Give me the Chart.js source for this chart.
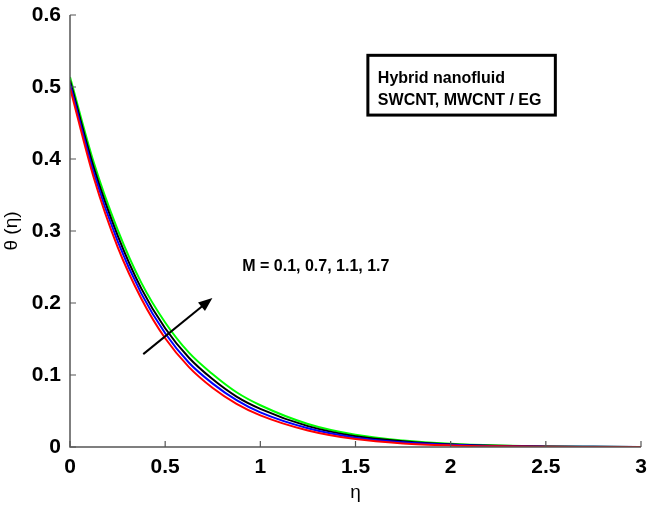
<!DOCTYPE html>
<html>
<head>
<meta charset="utf-8">
<script src="https://cdn.jsdelivr.net/npm/chart.js@4.4.1/dist/chart.umd.min.js"></script>
<style>
  html, body { margin: 0; padding: 0; background: #fff; }
  #wrap { width: 671px; height: 508px; position: relative; }
</style>
</head>
<body>
<div id="wrap"><canvas id="thetaChart"></canvas></div>
<script>
// eta grid and temperature profiles
const eta = [0, 0.125, 0.25, 0.375, 0.5, 0.625, 0.75, 0.875, 1.0, 1.25, 1.5, 1.75, 2.0, 2.25, 2.5, 2.75, 3.0];

const thetaM01 = [0.499, 0.374, 0.278, 0.206, 0.151, 0.111, 0.082, 0.060, 0.044, 0.023, 0.011, 0.005, 0.0022, 0.0009, 0.0003, 0.0001, 0];
const thetaM07 = [0.504, 0.381, 0.286, 0.213, 0.158, 0.117, 0.088, 0.065, 0.048, 0.026, 0.013, 0.0065, 0.003, 0.0012, 0.0005, 0.0002, 0];
const thetaM11 = [0.509, 0.388, 0.294, 0.220, 0.165, 0.124, 0.094, 0.070, 0.053, 0.029, 0.015, 0.008, 0.0037, 0.0016, 0.0006, 0.0002, 0];
const thetaM17 = [0.514, 0.395, 0.302, 0.228, 0.173, 0.131, 0.101, 0.076, 0.058, 0.032, 0.017, 0.009, 0.0044, 0.002, 0.0008, 0.0003, 0.0001];

const xTicks = [0, 0.5, 1, 1.5, 2, 2.5, 3];
const yTicks = [0, 0.1, 0.2, 0.3, 0.4, 0.5, 0.6];

const fontFamily = '"Liberation Sans", Arial, sans-serif';

function toPoints(ys) {
    return eta.map((x, i) => ({ x: x, y: ys[i] }));
}

function series(label, ys, color) {
    return {
        label: label,
        data: toPoints(ys),
        borderColor: color,
        backgroundColor: color,
        borderWidth: 2,
        pointRadius: 0,
        cubicInterpolationMode: 'monotone',
        fill: false
    };
}

// Axis lines, inward ticks, text box, arrow and M label
const decorPlugin = {
    id: 'decor',
    afterDatasetsDraw(chart) {
        const ctx = chart.ctx;
        const xs = chart.scales.x;
        const ys = chart.scales.y;
        const a = chart.chartArea;
        ctx.save();

        // axes (box off: only left and bottom)
        ctx.strokeStyle = '#555';
        ctx.lineWidth = 1.5;
        ctx.beginPath();
        ctx.moveTo(a.left, a.top);
        ctx.lineTo(a.left, a.bottom);
        ctx.lineTo(a.right, a.bottom);
        ctx.stroke();

        // inward ticks
        ctx.lineWidth = 1.2;
        ctx.beginPath();
        xTicks.forEach(v => {
            const px = xs.getPixelForValue(v);
            ctx.moveTo(px, a.bottom);
            ctx.lineTo(px, a.bottom - 6);
        });
        yTicks.forEach(v => {
            const py = ys.getPixelForValue(v);
            ctx.moveTo(a.left, py);
            ctx.lineTo(a.left + 6, py);
        });
        ctx.stroke();

        // text box
        const bx0 = xs.getPixelForValue(1.565), by0 = ys.getPixelForValue(0.544);
        const bx1 = xs.getPixelForValue(2.55), by1 = ys.getPixelForValue(0.461);
        ctx.fillStyle = '#fff';
        ctx.fillRect(bx0, by0, bx1 - bx0, by1 - by0);
        ctx.strokeStyle = '#000';
        ctx.lineWidth = 3;
        ctx.strokeRect(bx0, by0, bx1 - bx0, by1 - by0);
        ctx.fillStyle = '#000';
        ctx.font = 'bold 16px ' + fontFamily;
        ctx.textAlign = 'left';
        ctx.textBaseline = 'middle';
        ctx.fillText('Hybrid nanofluid', bx0 + 10, by0 + 23);
        ctx.fillText('SWCNT, MWCNT / EG', bx0 + 10, by0 + 45);

        // M label
        ctx.fillText('M = 0.1, 0.7, 1.1, 1.7', xs.getPixelForValue(0.905), ys.getPixelForValue(0.25));

        // arrow
        const ax0 = xs.getPixelForValue(0.385), ay0 = ys.getPixelForValue(0.129);
        const ax1 = xs.getPixelForValue(0.748), ay1 = ys.getPixelForValue(0.207);
        const ang = Math.atan2(ay1 - ay0, ax1 - ax0);
        ctx.strokeStyle = '#000';
        ctx.lineWidth = 2;
        ctx.beginPath();
        ctx.moveTo(ax0, ay0);
        ctx.lineTo(ax1 - 8 * Math.cos(ang), ay1 - 8 * Math.sin(ang));
        ctx.stroke();
        ctx.beginPath();
        ctx.moveTo(ax1, ay1);
        ctx.lineTo(ax1 - 14 * Math.cos(ang) + 5.5 * Math.sin(ang), ay1 - 14 * Math.sin(ang) - 5.5 * Math.cos(ang));
        ctx.lineTo(ax1 - 14 * Math.cos(ang) - 5.5 * Math.sin(ang), ay1 - 14 * Math.sin(ang) + 5.5 * Math.cos(ang));
        ctx.closePath();
        ctx.fill();

        ctx.restore();
    }
};

const ctx = document.getElementById('thetaChart').getContext('2d');
new Chart(ctx, {
    type: 'line',
    data: {
        datasets: [
            series('M = 0.1', thetaM01, '#ff0000'),
            series('M = 0.7', thetaM07, '#0000ff'),
            series('M = 1.1', thetaM11, '#000000'),
            series('M = 1.7', thetaM17, '#00ff00')
        ]
    },
    options: {
        responsive: true,
        maintainAspectRatio: false,
        animation: false,
        layout: { padding: { top: 15, right: 30, left: 0, bottom: 0 } },
        plugins: {
            legend: { display: false },
            tooltip: { enabled: false }
        },
        scales: {
            x: {
                type: 'linear',
                min: 0,
                max: 3,
                afterBuildTicks: s => { s.ticks = xTicks.map(v => ({ value: v })); },
                grid: { display: false, drawTicks: false },
                border: { display: false },
                ticks: {
                    color: '#000',
                    font: { family: fontFamily, size: 21, weight: 'bold' },
                    padding: 8,
                    maxRotation: 0,
                    callback: v => String(v)
                },
                title: {
                    display: true,
                    text: 'η',
                    color: '#000',
                    font: { family: fontFamily, size: 19 },
                    padding: { top: 2, bottom: 4 }
                },
                afterFit: s => { s.height = 61; s.paddingLeft = 0; s.paddingRight = 0; }
            },
            y: {
                type: 'linear',
                min: 0,
                max: 0.6,
                afterBuildTicks: s => { s.ticks = yTicks.map(v => ({ value: v })); },
                grid: { display: false, drawTicks: false },
                border: { display: false },
                ticks: {
                    color: '#000',
                    font: { family: fontFamily, size: 21, weight: 'bold' },
                    padding: 9,
                    callback: v => String(v)
                },
                title: {
                    display: true,
                    text: 'θ (η)',
                    color: '#000',
                    font: { family: fontFamily, size: 19 },
                    padding: { top: 0, bottom: 0 }
                },
                afterFit: s => { s.width = 70; s.paddingTop = 0; s.paddingBottom = 0; }
            }
        }
    },
    plugins: [decorPlugin]
});
</script>
</body>
</html>
